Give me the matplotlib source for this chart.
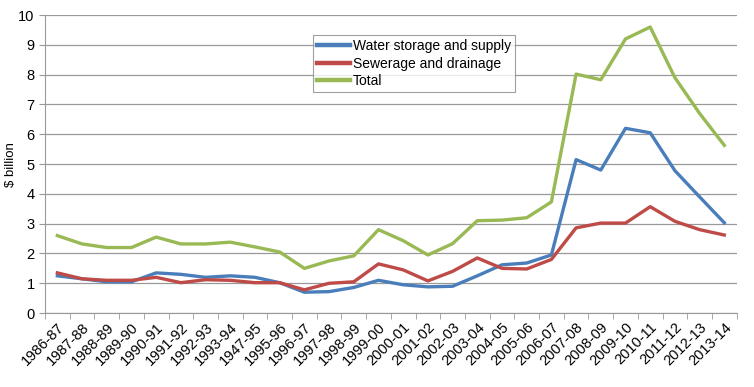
import matplotlib.pyplot as plt
import numpy as np

plt.rcParams['font.family'] = ['Liberation Sans', 'DejaVu Sans']

# financial years as printed on the chart (incl. the "1947-95" typo)
years = ['1986-87', '1987-88', '1988-89', '1989-90', '1990-91', '1991-92', '1992-93',
         '1993-94', '1947-95', '1995-96', '1996-97', '1997-98', '1998-99', '1999-00',
         '2000-01', '2001-02', '2002-03', '2003-04', '2004-05', '2005-06', '2006-07',
         '2007-08', '2008-09', '2009-10', '2010-11', '2011-12', '2012-13', '2013-14']

water = [1.25, 1.15, 1.05, 1.05, 1.35, 1.3, 1.2, 1.25, 1.2, 1.02, 0.7, 0.72, 0.86, 1.1,
         0.95, 0.88, 0.9, 1.25, 1.62, 1.68, 1.95, 5.15, 4.8, 6.2, 6.05, 4.78, 3.9, 3.03]
sewer = [1.35, 1.15, 1.1, 1.1, 1.2, 1.02, 1.12, 1.1, 1.02, 1.02, 0.78, 1.0, 1.05, 1.65,
         1.45, 1.08, 1.4, 1.85, 1.5, 1.48, 1.8, 2.86, 3.02, 3.02, 3.57, 3.08, 2.8, 2.62]
total = [2.6, 2.32, 2.2, 2.2, 2.55, 2.32, 2.32, 2.38, 2.22, 2.05, 1.5, 1.75, 1.92, 2.8,
         2.43, 1.95, 2.33, 3.1, 3.12, 3.2, 3.73, 8.02, 7.83, 9.2, 9.6, 7.9, 6.7, 5.63]

fig = plt.figure(figsize=(7.54, 3.87), dpi=100)
ax = fig.add_axes([0.0597, 0.191, 0.9173, 0.770])

x = np.arange(len(years))
ax.plot(x, water, color='#4a7ebb', lw=2.4, label='Water storage and supply')
ax.plot(x, sewer, color='#be4b48', lw=2.4, label='Sewerage and drainage')
ax.plot(x, total, color='#98b954', lw=2.4, label='Total')

ax.set_xlim(-0.5, len(years) - 0.5)
ax.set_ylim(0, 10)
ax.set_yticks(range(0, 11))
# tick marks between categories (minor), labels at category centres (major)
ax.set_xticks(np.append(x - 0.5, len(years) - 0.5), minor=True)
ax.set_xticks(x)
ax.set_xticklabels(years, fontsize=10.5)
for lbl in ax.get_xticklabels():
    lbl.set_rotation(45)
    lbl.set_ha('right')
    lbl.set_rotation_mode('anchor')
ax.tick_params(axis='x', which='major', length=0, pad=5)
ax.tick_params(axis='x', which='minor', length=4, color='#999999')
ax.tick_params(axis='y', length=4, color='#999999', labelsize=10.5)

ax.grid(axis='y', color='#999999', lw=0.9)
ax.set_axisbelow(True)
for s in ['top', 'right']:
    ax.spines[s].set_visible(False)
ax.spines['left'].set_color('#999999')
ax.spines['bottom'].set_color('#999999')

ax.set_ylabel('$ billion', fontsize=9.5)
ax.yaxis.set_label_coords(-0.040, 0.5)

leg = ax.legend(loc='upper left', bbox_to_anchor=(0.387, 0.933), borderaxespad=0,
                fontsize=10, frameon=True, fancybox=False, edgecolor='#888888',
                handlelength=2.4, handletextpad=0.2, borderpad=0.3, labelspacing=0.25)
leg.get_frame().set_linewidth(0.8)
for h in leg.get_lines():
    h.set_linewidth(3.2)

fig.savefig('out.png', dpi=100)
